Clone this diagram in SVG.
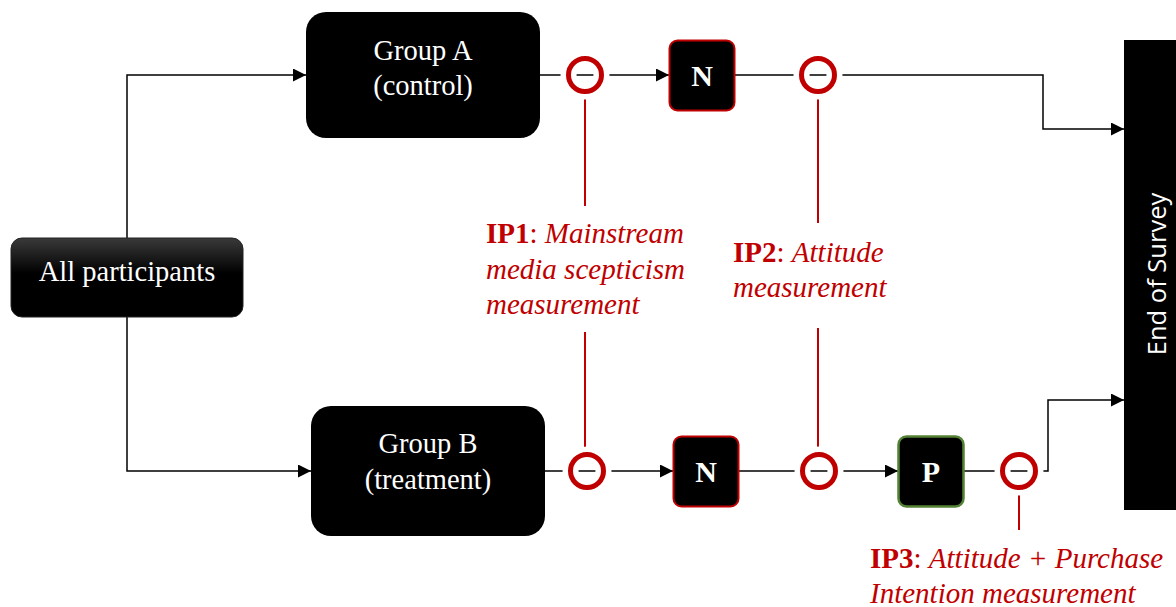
<svg xmlns="http://www.w3.org/2000/svg" width="1176" height="607" viewBox="0 0 1176 607">
<defs>
<style>
.box{fill:#000}
.wt{fill:#fff;font-family:"Liberation Serif","Times New Roman",serif;font-size:28.5px;text-anchor:middle}
.bt{fill:#fff;font-family:"Liberation Serif","Times New Roman",serif;font-size:30px;font-weight:bold;text-anchor:middle}
.con{fill:none;stroke:#000;stroke-width:1.5}
.red{fill:none;stroke:#C00000;stroke-width:2}
.halo{fill:none;stroke:#fff;stroke-width:16}
.ring{fill:none;stroke:#C00000;stroke-width:5}
.lbl{fill:#C00000;font-family:"Liberation Serif","Times New Roman",serif;font-size:29px}
.b{font-weight:bold;font-style:normal}
.i{font-style:italic}
</style>
<linearGradient id="g1" x1="0" y1="0" x2="0" y2="1">
<stop offset="0" stop-color="#3a3a3a"/>
<stop offset="0.45" stop-color="#000"/>
<stop offset="1" stop-color="#000"/>
</linearGradient>
<marker id="arrL" viewBox="0 0 10 10" refX="10" refY="5" markerWidth="15" markerHeight="13" markerUnits="userSpaceOnUse" orient="auto">
<path d="M0,0 L10,5 L0,10 z" fill="#000"/>
</marker>
</defs>
<rect width="1176" height="607" fill="#fff"/>

<g id="connectors">
<path class="con" d="M127,238 V75 H306" marker-end="url(#arrL)"/>
<path class="con" d="M127,317 V471 H311" marker-end="url(#arrL)"/>
<path class="con" d="M540,75 H669" marker-end="url(#arrL)"/>
<path class="con" d="M735,75 H1043 V129 H1124" marker-end="url(#arrL)"/>
<path class="con" d="M545,471 H673" marker-end="url(#arrL)"/>
<path class="con" d="M739,471 H898" marker-end="url(#arrL)"/>
<path class="con" d="M964,471 H1048 V400 H1124" marker-end="url(#arrL)"/>
<path class="red" d="M585,94 V206 M585,332 V453 M818,94 V223 M818,328 V453 M1019,490 V530"/>
</g>

<g id="all-participants">
<rect x="11" y="238" width="232" height="79" rx="11" fill="url(#g1)" stroke="#222" stroke-width="1"/>
<text class="wt" x="127" y="281">All participants</text>
</g>

<g id="group-a">
<rect class="box" x="306" y="12" width="234" height="126" rx="20"/>
<text class="wt" x="423" y="60">Group A</text>
<text class="wt" x="423" y="95">(control)</text>
</g>

<g id="group-b">
<rect class="box" x="311" y="406" width="234" height="130" rx="20"/>
<text class="wt" x="428" y="453">Group B</text>
<text class="wt" x="428" y="489">(treatment)</text>
</g>

<g id="n-top">
<rect x="669.5" y="40.5" width="65" height="70" rx="8" fill="#000" stroke="#C00000" stroke-width="2"/>
<text class="bt" x="702" y="86">N</text>
</g>
<g id="n-bottom">
<rect x="673.5" y="436.5" width="65" height="70" rx="8" fill="#000" stroke="#C00000" stroke-width="2"/>
<text class="bt" x="706" y="482">N</text>
</g>
<g id="p-bottom">
<rect x="898.5" y="436.5" width="65" height="70" rx="8" fill="#000" stroke="#548235" stroke-width="2.5"/>
<text class="bt" x="931" y="482">P</text>
</g>

<g id="end-of-survey">
<rect x="1124" y="40" width="60" height="470" fill="#000"/>
<text x="0" y="0" transform="translate(1166,274) rotate(-90)" fill="#fff" font-family="'Open Sans','Noto Sans',sans-serif" font-size="25.5" text-anchor="middle">End of Survey</text>
</g>

<g id="ip1-top"><circle class="halo" cx="585" cy="75" r="16.5"/><circle class="ring" cx="585" cy="75" r="16.5"/></g>
<g id="ip2-top"><circle class="halo" cx="818" cy="75" r="16.5"/><circle class="ring" cx="818" cy="75" r="16.5"/></g>
<g id="ip1-bottom"><circle class="halo" cx="587" cy="471" r="16.5"/><circle class="ring" cx="587" cy="471" r="16.5"/></g>
<g id="ip2-bottom"><circle class="halo" cx="819" cy="471" r="16.5"/><circle class="ring" cx="819" cy="471" r="16.5"/></g>
<g id="ip3-bottom"><circle class="halo" cx="1019" cy="471" r="16.5"/><circle class="ring" cx="1019" cy="471" r="16.5"/></g>

<g id="ip1-label">
<text class="lbl" x="486" y="243"><tspan class="b">IP1</tspan>: <tspan class="i">Mainstream</tspan></text>
<text class="lbl i" x="486" y="279">media scepticism</text>
<text class="lbl i" x="486" y="314">measurement</text>
</g>
<g id="ip2-label">
<text class="lbl" x="733" y="262"><tspan class="b">IP2</tspan>: <tspan class="i">Attitude</tspan></text>
<text class="lbl i" x="733" y="297">measurement</text>
</g>
<g id="ip3-label">
<text class="lbl" x="870" y="568"><tspan class="b">IP3</tspan>: <tspan class="i">Attitude + Purchase</tspan></text>
<text class="lbl i" x="870" y="603">Intention measurement</text>
</g>
</svg>
